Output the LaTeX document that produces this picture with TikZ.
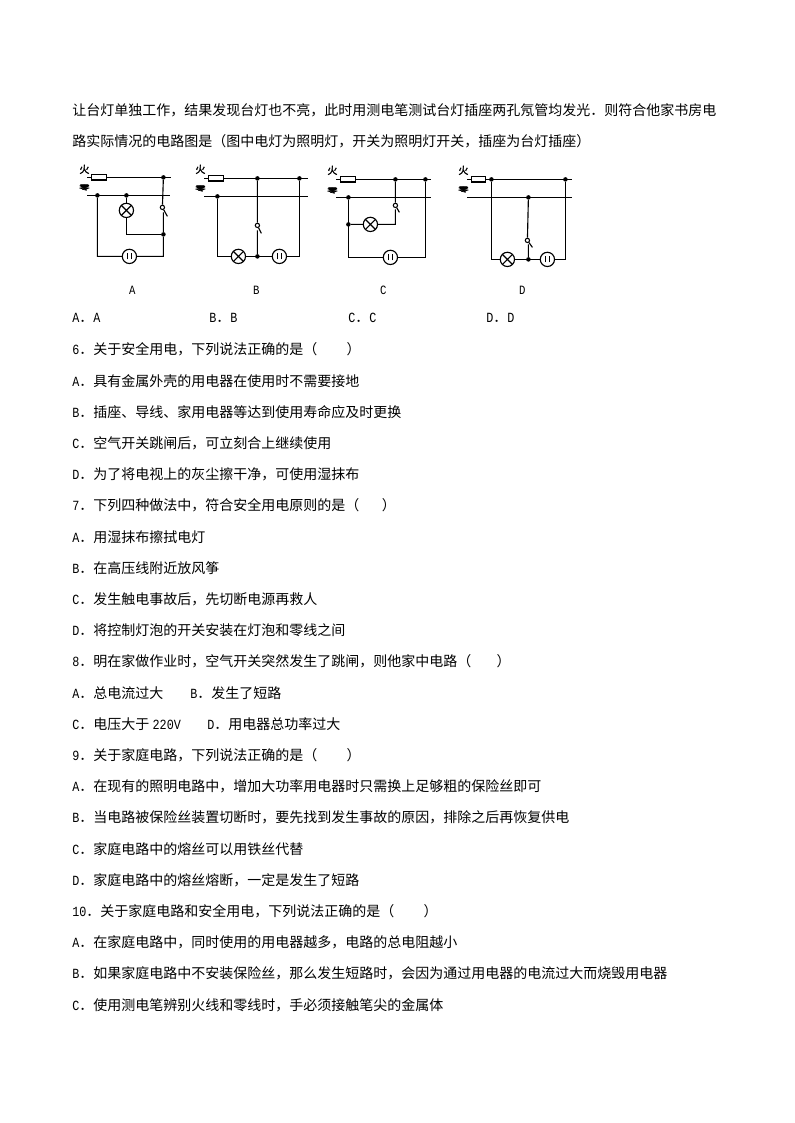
\documentclass[tikz,border=0pt]{standalone}
\usepackage{fontspec}
\setmainfont{Noto Sans CJK SC}
\newfontfamily\latf[FakeStretch=0.84]{Liberation Mono}
\newfontfamily\boldcjk[FakeBold=2]{Noto Sans CJK SC}
\newcommand{\la}[1]{{\latf #1}}
\newcommand{\pgap}[1]{\hspace*{#1bp}}
\tikzset{
 txt/.style={anchor=base west,inner sep=0pt,font=\fontsize{10.5bp}{12bp}\selectfont},
 wire/.style={draw=black,line width=0.85bp},
 dot/.style={circle,fill=black,inner sep=0pt,minimum size=3.4bp},
 fuse/.style={draw=black,fill=white,line width=0.85bp,inner sep=0pt,minimum width=11bp,minimum height=4bp},
 lamp/.style={circle,draw=black,fill=white,line width=0.85bp,inner sep=0pt,minimum size=10.7bp,
   path picture={\draw[line width=0.85bp] (path picture bounding box.north west)--(path picture bounding box.south east)
     (path picture bounding box.north east)--(path picture bounding box.south west);}},
 sock/.style={circle,draw=black,fill=white,line width=0.85bp,inner sep=0pt,minimum size=10.7bp,
   path picture={\draw[line width=1bp] ([shift={(-1.4bp,-2.3bp)}]path picture bounding box.center)--++(0,4.6bp)
     ([shift={(1.4bp,-2.3bp)}]path picture bounding box.center)--++(0,4.6bp);}},
 sw/.style={circle,draw=black,fill=white,line width=0.8bp,inner sep=0pt,minimum size=3.2bp},
 hu/.style={inner sep=0pt,font=\boldcjk\fontsize{7.5bp}{8bp}\selectfont},
 ling/.style={inner sep=0pt,font=\boldcjk\fontsize{8bp}{8bp}\selectfont,yscale=.65,transform shape},
 capt/.style={inner sep=0pt,font=\fontsize{9.5bp}{10bp}\selectfont},
}
\begin{document}
\begin{tikzpicture}[x=0.75bp,y=-0.75bp]
\path[use as bounding box,fill=white] (0,0) rectangle (794,1123);
% text
\node[txt] (t1) at (72,116) {让台灯单独工作，结果发现台灯也不亮，此时用测电笔测试台灯插座两孔氖管均发光．则符合他家书房电};
\node[txt] (t2) at (72,147) {路实际情况的电路图是（图中电灯为照明灯，开关为照明灯开关，插座为台灯插座）};
\node[txt] (o1) at (72,323) {\la{A}．\la{A}};
\node[txt] (o2) at (209,323) {\la{B}．\la{B}};
\node[txt] (o3) at (348,323) {\la{C}．\la{C}};
\node[txt] (o4) at (486,323) {\la{D}．\la{D}};
\node[txt] (q6) at (72,354) {\la{6}．关于安全用电，下列说法正确的是（\pgap{22}）};
\node[txt] (q6a) at (72,386) {\la{A}．具有金属外壳的用电器在使用时不需要接地};
\node[txt] (q6b) at (72,417) {\la{B}．插座、导线、家用电器等达到使用寿命应及时更换};
\node[txt] (q6c) at (72,448) {\la{C}．空气开关跳闸后，可立刻合上继续使用};
\node[txt] (q6d) at (72,479) {\la{D}．为了将电视上的灰尘擦干净，可使用湿抹布};
\node[txt] (q7) at (72,510) {\la{7}．下列四种做法中，符合安全用电原则的是（\pgap{17}）};
\node[txt] (q7a) at (72,542) {\la{A}．用湿抹布擦拭电灯};
\node[txt] (q7b) at (72,573) {\la{B}．在高压线附近放风筝};
\node[txt] (q7c) at (72,604) {\la{C}．发生触电事故后，先切断电源再救人};
\node[txt] (q7d) at (72,635) {\la{D}．将控制灯泡的开关安装在灯泡和零线之间};
\node[txt] (q8) at (72,666) {\la{8}．明在家做作业时，空气开关突然发生了跳闸，则他家中电路（\pgap{19}）};
\node[txt] (q8a) at (72,698) {\la{A}．总电流过大};
\node[txt] (q8b) at (190,698) {\la{B}．发生了短路};
\node[txt] (q8c) at (72,729) {\la{C}．电压大于\pgap{2.5}\la{220V}};
\node[txt] (q8d) at (207,729) {\la{D}．用电器总功率过大};
\node[txt] (q9) at (72,760) {\la{9}．关于家庭电路，下列说法正确的是（\pgap{22}）};
\node[txt] (q9a) at (72,791) {\la{A}．在现有的照明电路中，增加大功率用电器时只需换上足够粗的保险丝即可};
\node[txt] (q9b) at (72,822) {\la{B}．当电路被保险丝装置切断时，要先找到发生事故的原因，排除之后再恢复供电};
\node[txt] (q9c) at (72,854) {\la{C}．家庭电路中的熔丝可以用铁丝代替};
\node[txt] (q9d) at (72,885) {\la{D}．家庭电路中的熔丝熔断，一定是发生了短路};
\node[txt] (q10) at (72,916) {\la{10}．关于家庭电路和安全用电，下列说法正确的是（\pgap{22}）};
\node[txt] (q10a) at (72,947) {\la{A}．在家庭电路中，同时使用的用电器越多，电路的总电阻越小};
\node[txt] (q10b) at (72,978) {\la{B}．如果家庭电路中不安装保险丝，那么发生短路时，会因为通过用电器的电流过大而烧毁用电器};
\node[txt] (q10c) at (72,1010) {\la{C}．使用测电笔辨别火线和零线时，手必须接触笔尖的金属体};
\begin{scope}[shift={(0.4,0.4)}]
% Circuit A
\node[hu] (Ah) at (84,169) {火};
\node[ling] (Al) at (84,187) {零};
\node[capt] (Ac) at (132,290) {\la{A}};
\coordinate (Af0) at (87,177); \coordinate (Af1) at (171,177);
\coordinate (An0) at (87,195); \coordinate (An1) at (170,195);
\node[dot] (Aj1) at (163,177) {};
\node[dot] (Aj2) at (97,195) {};
\node[dot] (Aj3) at (126,195) {};
\node[dot] (Aj4) at (163,234) {};
\node[sw] (Asw) at (162,207) {};
\coordinate (Alv) at (167,216);
\coordinate (Act) at (163,212);
\coordinate (Ac1) at (126,234);
\coordinate (Ac2) at (97,256);
\coordinate (Ac3) at (163,256);
\draw[wire] (Af0) -- (Af1) (An0) -- (An1);
\node[fuse] (Afu) at (98.5,177) {};
\draw[wire] (Aj1) -- (Asw) (Asw) -- (Alv) (Act) -- (Aj4) -- (Ac3) -- (Ac2) -- (Aj2);
\draw[wire] (Aj3) -- (Ac1) -- (Aj4);
\node[lamp] (Ala) at (126,210) {};
\node[sock] (Aso) at (129,256) {};
% Circuit B
\node[hu] (Bh) at (200,169) {火};
\node[ling] (Bl) at (200,188) {零};
\node[capt] (Bc) at (256,290) {\la{B}};
\coordinate (Bf0) at (204,178); \coordinate (Bf1) at (308,178);
\coordinate (Bn0) at (204,196); \coordinate (Bn1) at (308,196);
\node[dot] (Bj1) at (257,178) {};
\node[dot] (Bj2) at (299,178) {};
\node[dot] (Bj3) at (217,196) {};
\node[dot] (Bj4) at (257,256) {};
\node[sw] (Bsw) at (257,225) {};
\coordinate (Blv) at (261,233);
\coordinate (Bct) at (257,230);
\coordinate (Bc1) at (217,256);
\coordinate (Bc2) at (299,256);
\draw[wire] (Bf0) -- (Bf1) (Bn0) -- (Bn1);
\node[fuse] (Bfu) at (215.5,178) {};
\draw[wire] (Bj1) -- (Bsw) (Bsw) -- (Blv) (Bct) -- (Bj4);
\draw[wire] (Bj3) -- (Bc1) -- (Bc2) -- (Bj2);
\node[lamp] (Bla) at (238,256) {};
\node[sock] (Bso) at (279,256) {};
% Circuit C
\node[hu] (Ch) at (332,170) {火};
\node[ling] (Cl) at (332,190) {零};
\node[capt] (Cc) at (383,290) {\la{C}};
\coordinate (Cf0) at (336,179); \coordinate (Cf1) at (431,179);
\coordinate (Cn0) at (336,197); \coordinate (Cn1) at (431,197);
\node[dot] (Cj1) at (395,179) {};
\node[dot] (Cj2) at (425,179) {};
\node[dot] (Cj3) at (348,197) {};
\node[dot] (Cj4) at (348,224) {};
\node[sw] (Csw) at (395,205) {};
\coordinate (Clv) at (399,212);
\coordinate (Cct) at (395,209);
\coordinate (Cc1) at (395,224);
\coordinate (Cc2) at (348,257);
\coordinate (Cc3) at (425,257);
\draw[wire] (Cf0) -- (Cf1) (Cn0) -- (Cn1);
\node[fuse] (Cfu) at (347.5,179) {};
\draw[wire] (Cj1) -- (Csw) (Csw) -- (Clv) (Cct) -- (Cc1) -- (Cj4);
\draw[wire] (Cj3) -- (Cc2) -- (Cc3) -- (Cj2);
\node[lamp] (Cla) at (370,224) {};
\node[sock] (Cso) at (390,257) {};
% Circuit D
\node[hu] (Dh) at (463,170) {火};
\node[ling] (Dl) at (463,189) {零};
\node[capt] (Dc) at (522,290) {\la{D}};
\coordinate (Df0) at (467,179); \coordinate (Df1) at (572,179);
\coordinate (Dn0) at (467,197); \coordinate (Dn1) at (572,197);
\node[dot] (Dj1) at (491,179) {};
\node[dot] (Dj2) at (565,179) {};
\node[dot] (Dj3) at (528,197) {};
\node[dot] (Dj4) at (528,259) {};
\node[sw] (Dsw) at (527,240) {};
\coordinate (Dlv) at (532,247);
\coordinate (Dct) at (528,244);
\coordinate (Dc1) at (491,259);
\coordinate (Dc2) at (565,259);
\draw[wire] (Df0) -- (Df1) (Dn0) -- (Dn1);
\node[fuse] (Dfu) at (478,179) {};
\draw[wire] (Dj3) -- (Dsw) (Dsw) -- (Dlv) (Dct) -- (Dj4);
\draw[wire] (Dj1) -- (Dc1) -- (Dc2) -- (Dj2);
\node[lamp] (Dla) at (507,259) {};
\node[sock] (Dso) at (547,259) {};
\end{scope}
\end{tikzpicture}
\end{document}
